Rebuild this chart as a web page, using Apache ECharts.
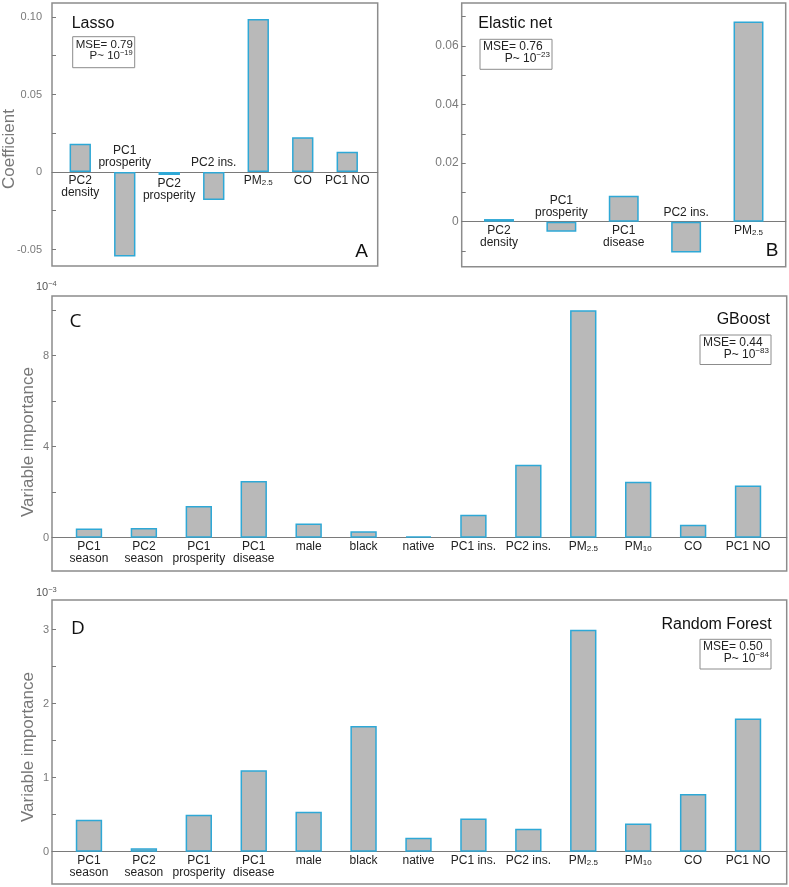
<!DOCTYPE html>
<html><head><meta charset="utf-8">
<script src="https://cdn.jsdelivr.net/npm/echarts@6/dist/echarts.min.js"></script>
<style>html,body{margin:0;padding:0;background:#fff}#c{width:789px;height:887px}</style>
</head><body><div id="c"></div>
<script>
// ---------- data ----------
const catsA = ['PC2\ndensity','PC1\nprosperity','PC2\nprosperity','PC2 ins.','PM2.5','CO','PC1 NO'];
const valsA = [0.0183,-0.0546,-0.0020,-0.0180,0.0987,0.0224,0.0131];
const catsB = ['PC2\ndensity','PC1\nprosperity','PC1\ndisease','PC2 ins.','PM2.5'];
const valsB = [0.0009,-0.0034,0.0089,-0.0105,0.0684];
const catsCD = ['PC1\nseason','PC2\nseason','PC1\nprosperity','PC1\ndisease','male','black','native','PC1 ins.','PC2 ins.','PM2.5','PM10','CO','PC1 NO'];
const valsC = [0.40,0.43,1.39,2.49,0.62,0.28,0.06,1.01,3.21,10.0,2.46,0.57,2.29];
const valsD = [0.43,0.045,0.50,1.10,0.54,1.70,0.19,0.45,0.31,3.00,0.38,0.78,1.80];
const ticksA = [-0.05,-0.025,0,0.025,0.05,0.075,0.10];
const tickLabelsA = [-0.05,0,0.05,0.10];
const ticksB = [-0.01,0,0.01,0.02,0.03,0.04,0.05,0.06,0.07];
const tickLabelsB = [0,0.02,0.04,0.06];
const ticksC = [0,2,4,6,8,10];
const tickLabelsC = [0,4,8];
const ticksD = [0,0.5,1,1.5,2,2.5,3];
const tickLabelsD = [0,1,2,3];
const modelNames = ['Lasso','Elastic net','GBoost','Random Forest'];
const mseValues = ['0.79','0.76','0.44','0.50'];
const pExponents = ['−19','−23','−83','−84'];
const panelLetters = ['A','B','C','D'];
const scaleExponents = ['−4','−3'];
const yTitles = ['Coefficient','Variable importance','Variable importance'];

// ---------- layout ----------
const FONT = 'Liberation Sans, Arial, sans-serif';
const panels = [
  {cats:catsA, vals:valsA, ticks:ticksA, tlab:tickLabelsA, fmt:v=>v===0?'0':v.toFixed(2),
   frame:{left:52,top:3,right:411.3,bottom:621}, bars:{left:58,right:419.5},
   min:-0.06065, max:0.10903, above:-0.003, tfs:11, tmargin:10, tfont:'Liberation Sans Narrow, Liberation Sans, Arial'},
  {cats:catsB, vals:valsB, ticks:ticksB, tlab:tickLabelsB, fmt:v=>v===0?'0':v.toFixed(2),
   frame:{left:461.7,top:3,right:3.3,bottom:620.3}, bars:{left:467.8,right:9.3},
   min:-0.01537, max:0.07468, above:-0.003, tfs:12, tmargin:3, tfont:FONT},
  {cats:catsCD, vals:valsC, ticks:ticksC, tlab:tickLabelsC, fmt:v=>String(v),
   frame:{left:52,top:296,right:2.3,bottom:316}, bars:{left:61.5,right:13.5},
   min:-1.464, max:10.624, above:-1e9, tfs:11, tmargin:3, tfont:FONT},
  {cats:catsCD, vals:valsD, ticks:ticksD, tlab:tickLabelsD, fmt:v=>String(v),
   frame:{left:52,top:600,right:2.3,bottom:3}, bars:{left:61.5,right:13.5},
   min:-0.4365, max:3.401, above:-1e9, tfs:11, tmargin:3, tfont:FONT}
];

function richName(n){
  return n.replace('PM2.5','{n|PM}{s|2.5}').replace('PM10','{n|PM}{s|10}');
}

const grid=[], xAxis=[], yAxis=[], series=[];
panels.forEach((p,i)=>{
  const g0 = 2*i, g1 = 2*i+1;
  grid.push({left:p.frame.left, top:p.frame.top, right:p.frame.right, bottom:p.frame.bottom,
    show:true, borderColor:'#8c8c8c', borderWidth:1.5, backgroundColor:'transparent'});
  grid.push({left:p.bars.left, top:p.frame.top, right:p.bars.right, bottom:p.frame.bottom});
  xAxis.push({gridIndex:g0, type:'value', min:0, max:1,
    axisLine:{show:true, onZero:true, lineStyle:{color:'#7a7a7a', width:1.2}},
    axisTick:{show:false}, axisLabel:{show:false}, splitLine:{show:false}});
  yAxis.push({gridIndex:g0, type:'value', min:p.min, max:p.max,
    axisLine:{show:false}, splitLine:{show:false},
    axisTick:{show:true, inside:true, length:4, customValues:p.ticks, lineStyle:{color:'#7a7a7a', width:1}},
    axisLabel:{show:true, customValues:p.tlab, formatter:p.fmt, color:'#7a7a7a', fontSize:p.tfs, fontFamily:p.tfont, margin:p.tmargin}});
  xAxis.push({gridIndex:g1, type:'category', data:p.cats, show:false});
  yAxis.push({gridIndex:g1, type:'value', min:p.min, max:p.max, show:false});
  series.push({type:'bar', xAxisIndex:g1, yAxisIndex:g1, barWidth:'48%',
    itemStyle:{color:'#b9b9b9', borderColor:'#2ea8d6', borderWidth:1.5},
    label:{show:true, color:'#222', fontSize:12, lineHeight:12, fontFamily:FONT, distance:3,
      formatter:(pr)=>richName(pr.name),
      rich:{n:{fontSize:12, lineHeight:12, verticalAlign:'top', color:'#222'},
            s:{fontSize:8, lineHeight:8, verticalAlign:'bottom', color:'#222'}}},
    data:p.vals.map(v=>({value:v, label:{position: v < p.above ? 'top' : 'bottom'}})),
    animation:false});
});

// ---------- texts ----------
const gfx = [];
function txt(x,y,text,opt){
  gfx.push(Object.assign({type:'text', x:x, y:y, silent:true,
    style:Object.assign({text:text, fill:'#111', font:'16px '+FONT, align:'left', verticalAlign:'middle'}, opt||{})}, {}));
}
// model names
txt(71.7,24,modelNames[0]);
txt(478.3,24,modelNames[1]);
txt(770,320,modelNames[2],{align:'right'});
txt(771.7,624.5,modelNames[3],{align:'right'});
// panel letters
txt(361.5,251.5,panelLetters[0],{align:'center', font:'19px '+FONT});
txt(772,251,panelLetters[1],{align:'center', font:'19px '+FONT});
txt(75.5,322,panelLetters[2],{align:'center', font:'19px Open Sans, Noto Sans, sans-serif'});
txt(78,628.5,panelLetters[3],{align:'center', font:'19px Open Sans, Noto Sans, sans-serif'});
// scale exponents
const supRich = {b:{fontSize:11, fontFamily:FONT, fill:'#555', color:'#555', verticalAlign:'bottom', lineHeight:13},
                 p:{fontSize:7.5, fontFamily:FONT, fill:'#555', color:'#555', verticalAlign:'top', lineHeight:8}};
txt(36,286,'{b|10}{p|'+scaleExponents[0]+'}',{rich:supRich});
txt(36,592,'{b|10}{p|'+scaleExponents[1]+'}',{rich:supRich});
// y titles
gfx.push({type:'text', x:9.5, y:149, rotation:Math.PI/2, silent:true,
  style:{text:yTitles[0], fill:'#777', font:'17px '+FONT, align:'center', verticalAlign:'middle'}});
gfx.push({type:'text', x:28.5, y:442, rotation:Math.PI/2, silent:true,
  style:{text:yTitles[1], fill:'#777', font:'17px '+FONT, align:'center', verticalAlign:'middle'}});
gfx.push({type:'text', x:28.5, y:747, rotation:Math.PI/2, silent:true,
  style:{text:yTitles[2], fill:'#777', font:'17px '+FONT, align:'center', verticalAlign:'middle'}});
// stat boxes
function statBox(bx,by,w,h,i,fs){
  gfx.push({type:'rect', silent:true, shape:{x:bx,y:by,width:w,height:h},
    style:{fill:'#fff', stroke:'#8c8c8c', lineWidth:1}});
  const r = {m:{fontSize:fs, fontFamily:FONT, fill:'#222', color:'#222', verticalAlign:'bottom', lineHeight:fs+2},
             e:{fontSize:fs-4, fontFamily:FONT, fill:'#222', color:'#222', verticalAlign:'top', lineHeight:fs-3}};
  txt(bx+3, by+7.8, 'MSE= '+mseValues[i], {font:fs+'px '+FONT, fill:'#222'});
  txt(bx+w-2, by+18.5, '{m|P~ 10}{e|'+pExponents[i]+'}', {align:'right', rich:r});
}
statBox(72.7,36.7,62,31,0,11.5);
statBox(480,39.3,72,30,1,12);
statBox(700,335,71,29.5,2,12);
statBox(700,639.3,71,29.7,3,12);

const chart = echarts.init(document.getElementById('c'), null, {renderer:'canvas'});
chart.setOption({
  animation:false,
  textStyle:{fontFamily:FONT},
  grid:grid, xAxis:xAxis, yAxis:yAxis, series:series,
  graphic:{elements:gfx}
});
</script></body></html>
